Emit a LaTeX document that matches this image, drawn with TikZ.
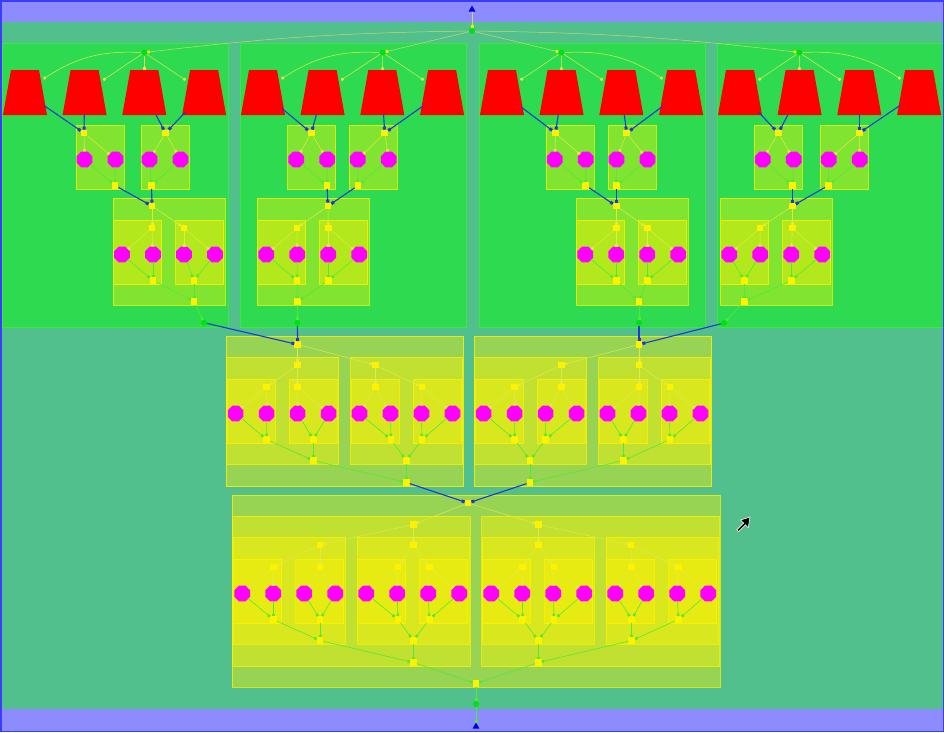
\documentclass[tikz,border=0pt]{standalone}
\usetikzlibrary{shapes.geometric,arrows.meta}
\definecolor{bandc}{RGB}{140,140,255}
\definecolor{tealc}{RGB}{82,192,140}
\definecolor{clusc}{RGB}{46,219,80}
\definecolor{clusd}{RGB}{60,232,70}
\definecolor{bluec}{RGB}{30,55,215}
\definecolor{borderc}{RGB}{60,60,255}
\definecolor{yedgec}{RGB}{225,235,70}
\definecolor{tedgec}{RGB}{205,215,110}
\definecolor{gedgec}{RGB}{80,235,50}
\definecolor{dotc}{RGB}{0,225,20}
\definecolor{trapc}{RGB}{255,0,0}
\definecolor{octc}{RGB}{255,0,255}
\definecolor{tric}{RGB}{0,0,225}
\tikzset{
  boxfill/.style={fill=yellow, fill opacity=0.4},
  boxline/.style={draw=yellow, draw opacity=0.75, line width=0.7pt},
  sq/.style={fill=yellow, minimum size=6.5pt, inner sep=0pt},
  oct/.style={regular polygon, regular polygon sides=8, fill=octc, minimum size=17pt, inner sep=0pt},
  gdot/.style={circle, fill=dotc, minimum size=6pt, inner sep=0pt},
  trapnode/.style={rectangle, minimum width=37pt, minimum height=45pt, inner sep=0pt, draw=none},
  tri/.style={regular polygon, regular polygon sides=3, fill=tric, minimum size=8pt, inner sep=0pt},
  yedge/.style={draw=yedgec, line width=0.5pt, -{Square[length=2.5pt,width=2.5pt]}},
  tedge/.style={draw=tedgec, line width=0.5pt, -{Square[length=2.5pt,width=2.5pt,color=yellow]}},
  gedge/.style={draw=gedgec, line width=0.6pt, -{Square[length=2.5pt,width=2.5pt]}},
  bedge/.style={draw=bluec, line width=1.1pt, -{Square[length=3pt,width=3pt]}},
}
% level-1 unit: id, left, top, split x, join x
\newcommand{\uOne}[5]{%
  \fill[boxfill] (#2,#3) rectangle ++(48,64.5);
  \draw[boxline] (#2,#3) rectangle ++(48,64.5);
  \node[sq] (#1-s) at (#4,#3+8) {};
  \node[oct] (#1-a) at (#2+8.5,#3+34.5) {};
  \node[oct] (#1-b) at (#2+39.5,#3+34.5) {};
  \node[sq] (#1-j) at (#5,#3+60.5) {};
  \draw[yedge] (#1-s) -- (#1-a);
  \draw[yedge] (#1-s) -- (#1-b);
  \draw[gedge] (#1-a) -- (#1-j);
  \draw[gedge] (#1-b) -- (#1-j);
}
% split/join pair: id, sx, sy, jx, jy, childA, childB
\newcommand{\pairlink}[7]{%
  \node[sq] (#1-s) at (#2,#3) {};
  \node[sq] (#1-j) at (#4,#5) {};
  \draw[yedge] (#1-s) -- (#6-s);
  \draw[yedge] (#1-s) -- (#7-s);
  \draw[gedge] (#6-j) -- (#1-j);
  \draw[gedge] (#7-j) -- (#1-j);
}
% level-2 unit: id,left,top,sx,jx,as,aj,bs,bj
\newcommand{\uTwo}[9]{%
  \fill[boxfill] (#2,#3) rectangle ++(112,107);
  \draw[boxline] (#2,#3) rectangle ++(112,107);
  \uOne{#1a}{#2+0.5}{#3+22}{#6}{#7}
  \uOne{#1b}{#2+62.5}{#3+22}{#8}{#9}
  \pairlink{#1}{#4}{#3+8}{#5}{#3+103.5}{#1a}{#1b}
}
\newcommand{\boxThree}[2]{%
  \fill[boxfill] (#1,#2) rectangle ++(237.5,150.5);
  \draw[boxline] (#1,#2) rectangle ++(237.5,150.5);
}
% one trapezoid: name, centre x
\newcommand{\trapz}[2]{%
  \fill[trapc] (#2-22,115) -- (#2+22,115) -- (#2+14,70) -- (#2-14,70) -- cycle;
  \node[trapnode] (#1) at (#2,92.5) {};
}
% cluster: id, left, top-dot x
\newcommand{\clusterbg}[3]{%
  \fill[clusc] (#2,43.5) rectangle ++(226,283.5);
  \draw[clusd, line width=0.7pt] (#2,43.5) rectangle ++(226,283.5);
  \trapz{#1t1}{#2+23}
  \trapz{#1t2}{#2+82.6}
  \trapz{#1t3}{#2+142.3}
  \trapz{#1t4}{#2+202.1}
  \node[gdot] (#1top) at (#3,52.5) {};
}
\begin{document}
\begin{tikzpicture}[x=1pt,y=-1pt]
\useasboundingbox (0,0) rectangle (944,732);
% backgrounds
\fill[tealc] (0,0) rectangle (944,732);
\fill[bandc] (0,0) rectangle (944,22);
\fill[bandc] (0,709) rectangle (944,732);

% clusters
\clusterbg{c1}{2}{144.3}
\clusterbg{c2}{240}{382.7}
\clusterbg{c3}{479}{561.3}
\clusterbg{c4}{717}{799.3}

\uOne{c1A}{76}{125}{84}{115}
\uOne{c1B}{141}{125}{165.5}{151.5}
\uTwo{c1C}{113}{198}{152}{194}{152}{153}{184}{194}

\uOne{c2A}{287.7}{125}{311.3}{327}
\uOne{c2B}{349.3}{125}{384.7}{358}
\uTwo{c2C}{257.3}{198}{328}{297.3}{297}{297}{328.3}{328.3}

\uOne{c3A}{546.3}{125}{555.5}{585.7}
\uOne{c3B}{608}{125}{626.7}{616.3}
\uTwo{c3C}{576.3}{198}{616.3}{639}{616.3}{616.3}{647.3}{647.3}

\uOne{c4A}{754.3}{125}{778.3}{792.3}
\uOne{c4B}{820.3}{125}{859.3}{828.3}
\uTwo{c4C}{720.3}{198}{792.3}{744.3}{760}{744.3}{792.3}{791.3}

\node[gdot] (c1bot) at (204,322.7) {};
\node[gdot] (c2bot) at (297.3,322.7) {};
\node[gdot] (c3bot) at (639,322.7) {};
\node[gdot] (c4bot) at (724,323) {};

% middle section
\boxThree{226}{336}
\uTwo{mLa}{226.6}{357}{297.7}{313.3}{266.7}{266.7}{297.7}{313.3}
\uTwo{mLb}{350.5}{357}{375.3}{406.3}{375.3}{391}{422}{422}
\pairlink{mL}{297.7}{344.5}{406.3}{482.5}{mLa}{mLb}

\boxThree{474}{336}
\uTwo{mRa}{474.6}{357}{561.3}{530}{514.7}{514.7}{561.3}{545.7}
\uTwo{mRb}{598.5}{357}{639}{623.3}{639}{623.3}{670}{670}
\pairlink{mR}{639}{344.5}{530}{482.5}{mRa}{mRb}

% bottom section
\fill[boxfill] (232,495) rectangle ++(488,192);
\draw[boxline] (232,495) rectangle ++(488,192);
\boxThree{232.7}{516}
\uTwo{bLa}{233.3}{537}{320}{320}{273.3}{273.3}{320}{320}
\uTwo{bLb}{357.2}{537}{413.3}{413.3}{398}{398}{429.3}{429.3}
\pairlink{bL}{413.3}{524.5}{413.3}{662.5}{bLa}{bLb}
\boxThree{481.7}{516}
\uTwo{bRa}{482.3}{537}{538.3}{538.3}{522.7}{522.7}{554}{554}
\uTwo{bRb}{606.2}{537}{631}{631.7}{631.7}{631.7}{678.3}{678.3}
\pairlink{bR}{538.3}{524.5}{538.3}{662.5}{bRa}{bRb}
\pairlink{bB}{468}{503}{476}{683.5}{bL}{bR}

% top and bottom terminals
\node[tri] (toptri) at (472,9.5) {};
\node[gdot] (topc) at (472,31) {};
\node[gdot] (botc) at (476,704) {};
\node[tri] (bottri) at (476,726.5) {};

\draw[tedge] (toptri) -- (topc);
\draw[tedge] (topc) to[bend right=3] (c1top);
\draw[tedge] (topc) -- (c2top);
\draw[tedge] (topc) -- (c3top);
\draw[tedge] (topc) to[bend left=3] (c4top);

% cluster top fans
\draw[yedge] (c1top) to[bend right=18] (c1t1);
\draw[yedge] (c1top) -- (c1t2);
\draw[yedge] (c1top) -- (c1t3);
\draw[yedge] (c1top) -- (c1t4);
\draw[yedge] (c2top) to[bend right=18] (c2t1);
\draw[yedge] (c2top) -- (c2t2);
\draw[yedge] (c2top) -- (c2t3);
\draw[yedge] (c2top) -- (c2t4);
\draw[yedge] (c3top) -- (c3t1);
\draw[yedge] (c3top) -- (c3t2);
\draw[yedge] (c3top) -- (c3t3);
\draw[yedge] (c3top) to[bend left=18] (c3t4);
\draw[yedge] (c4top) -- (c4t1);
\draw[yedge] (c4top) -- (c4t2);
\draw[yedge] (c4top) -- (c4t3);
\draw[yedge] (c4top) to[bend left=18] (c4t4);

% blue links in clusters
\foreach \c in {c1,c2,c3,c4}{
  \draw[bedge] (\c t1) -- (\c A-s);
  \draw[bedge] (\c t2) -- (\c A-s);
  \draw[bedge] (\c t3) -- (\c B-s);
  \draw[bedge] (\c t4) -- (\c B-s);
  \draw[bedge] (\c A-j) -- (\c C-s);
  \draw[bedge] (\c B-j) -- (\c C-s);
  \draw[gedge] (\c C-j) -- (\c bot);
}
\draw[bedge] (c1bot) -- (mL-s);
\draw[bedge] (c2bot) -- (mL-s);
\draw[bedge] (c3bot) -- (mR-s);
\draw[bedge] (c4bot) -- (mR-s);
\draw[bedge] (mL-j) -- (bB-s);
\draw[bedge] (mR-j) -- (bB-s);
\draw[gedge] (bB-j) -- (botc);
\draw[gedge] (botc) -- (bottri);

% outer border
\draw[borderc, line width=1.5pt] (0.75,0.75) rectangle (943.25,731.25);

% mouse pointer
\filldraw[fill=black, draw=white, line width=0.6pt, line join=miter]
  (750,517) -- (740.5,520) -- (743.6,523) -- (736.8,529.8) -- (738.6,531.6) -- (745.4,524.8) -- (748.2,527.8) -- cycle;
\end{tikzpicture}
\end{document}
